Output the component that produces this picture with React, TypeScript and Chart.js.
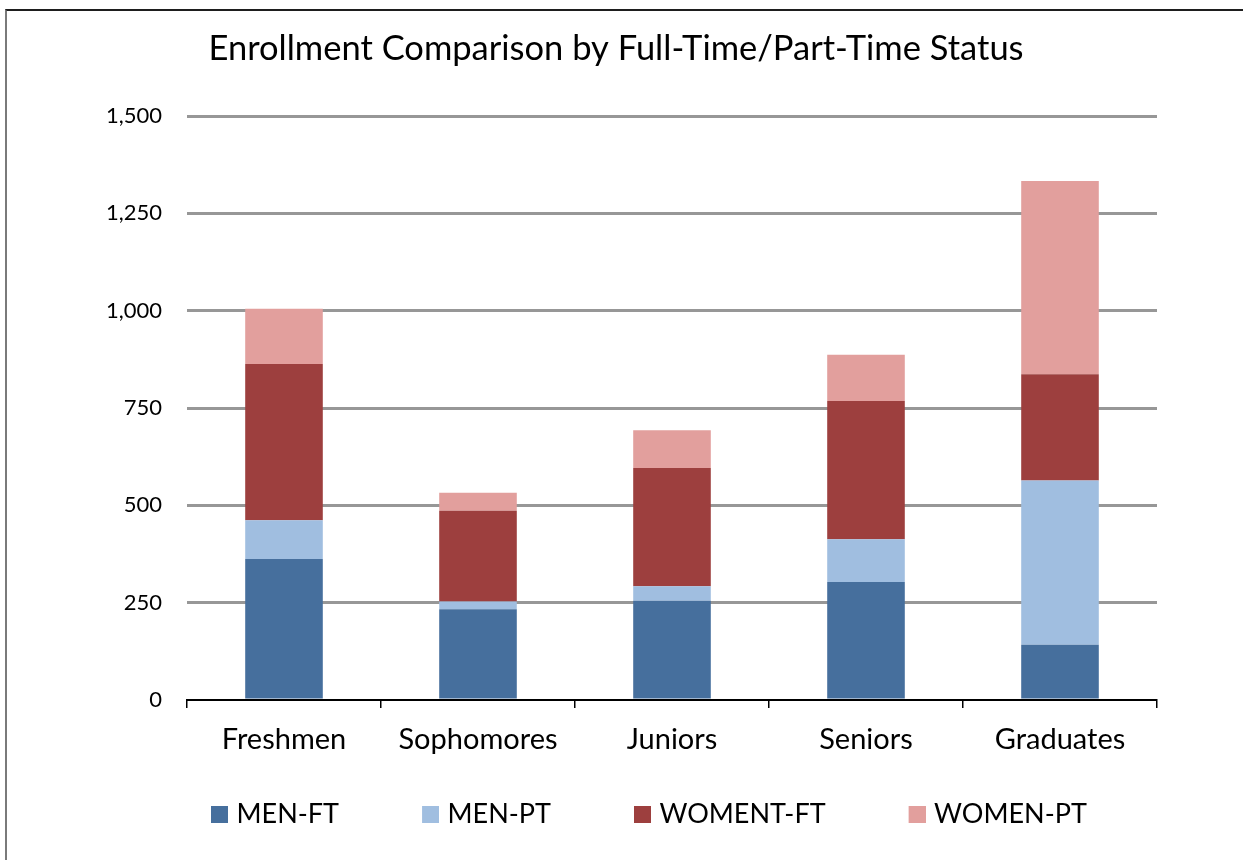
import React, { useEffect, useRef } from "react";
import { Chart, registerables } from "chart.js";

Chart.register(...registerables);

const categories = ["Freshmen", "Sophomores", "Juniors", "Seniors", "Graduates"];
const seriesNames = ["MEN-FT", "MEN-PT", "WOMENT-FT", "WOMEN-PT"];
const menFT = [362, 233, 255, 303, 142];
const menPT = [100, 20, 37, 110, 422];
const womenFT = [401, 233, 304, 355, 273];
const womenPT = [142, 46, 97, 119, 496];
const yTickValues = [0, 250, 500, 750, 1000, 1250, 1500];
const titleText = "Enrollment Comparison by Full-Time/Part-Time Status";

const seriesColors = ["#466F9D", "#A0BEE0", "#9D3F3E", "#E29F9D"];
const FONT = "Lato, 'Open Sans', sans-serif";

function makeLegendIcon(color: string, width: number, size: number) {
  const c = document.createElement("canvas");
  c.width = width;
  c.height = size;
  const g = c.getContext("2d");
  if (g) {
    g.fillStyle = color;
    g.fillRect(width - size, 0, size, size);
  }
  return c;
}

export default function App() {
  const ref = useRef<HTMLCanvasElement>(null);

  useEffect(() => {
    const canvas = ref.current;
    if (!canvas) return;
    const BOX_W = 85;
    const ICON = 17;
    const icons = seriesColors.map((c) => makeLegendIcon(c, BOX_W + 10, ICON));

    const shiftPlugin = {
      id: "shiftBoxes",
      afterLayout(chart: any) {
        const t = chart.titleBlock;
        if (t) {
          const dx = 616 - (t.left + t.right) / 2;
          t.left += dx;
          t.right += dx;
        }
        const lg = chart.legend;
        if (lg && lg.lineWidths) {
          const pad = lg.options.labels.padding;
          const x0 = (lg.left + pad + lg.right - lg.lineWidths[0]) / 2;
          const dx = 211 - (x0 + BOX_W + 5 - ICON);
          lg.left += dx;
          lg.right += dx;
        }
      },
    };

    const seriesData = [menFT, menPT, womenFT, womenPT];
    const chart = new Chart(canvas, {
      type: "bar",
      data: {
        labels: categories,
        datasets: seriesNames.map((name, i) => ({
          label: name,
          data: seriesData[i],
          backgroundColor: seriesColors[i],
          borderWidth: 0,
          barPercentage: 0.4,
          categoryPercentage: 1.0,
        })),
      },
      options: {
        responsive: false,
        animation: false,
        events: [],
        layout: { padding: { top: 0, left: 0, right: 86, bottom: 22 } },
        plugins: {
          title: {
            display: true,
            text: titleText,
            color: "#000",
            font: { family: FONT, size: 34.5, weight: "normal" },
            padding: { top: 28, bottom: 46.6 },
          },
          legend: {
            display: true,
            position: "bottom",
            labels: {
              usePointStyle: true,
              pointStyleWidth: BOX_W,
              boxHeight: ICON,
              color: "#000",
              font: { family: FONT, size: 27 },
              padding: 10,
              generateLabels: (ch: any) =>
                (Chart.defaults as any).plugins.legend.labels
                  .generateLabels(ch)
                  .map((l: any, i: number) => ({ ...l, pointStyle: icons[i] })),
            },
          },
          tooltip: { enabled: false },
        },
        scales: {
          x: {
            stacked: true,
            grid: {
              display: true,
              drawOnChartArea: false,
              drawTicks: true,
              tickLength: 8,
              color: "#000",
              lineWidth: 1.5,
              offset: true,
            },
            border: { display: true, color: "#000", width: 2 },
            ticks: { color: "#000", font: { family: FONT, size: 29 }, padding: 14 },
            afterFit: (s: any) => {
              s.height = 91;
            },
          },
          y: {
            stacked: true,
            min: 0,
            max: 1500,
            afterBuildTicks: (s: any) => {
              s.ticks = yTickValues.map((v) => ({ value: v }));
            },
            grid: {
              color: (c: any) => (c.tick && c.tick.value === 0 ? "rgba(0,0,0,0)" : "#979797"),
              lineWidth: 3,
              drawTicks: false,
            },
            border: { display: false },
            ticks: { color: "#000", font: { family: FONT, size: 22 }, padding: 25 },
            afterFit: (s: any) => {
              s.width = 187;
            },
          },
        },
      } as any,
      plugins: [shiftPlugin],
    });
    return () => chart.destroy();
  }, []);

  return (
    <div
      style={{
        position: "fixed",
        left: 0,
        top: 0,
        width: 1243,
        height: 860,
        background: "#fff",
        overflow: "hidden",
      }}
    >
      <canvas ref={ref} width={1243} height={860} style={{ display: "block" }} />
      <div
        style={{
          position: "absolute",
          left: 5,
          top: 9,
          right: 0,
          bottom: 0,
          borderTop: "2px solid #1e1e1e",
          borderLeft: "2px solid #7a7a7a",
          pointerEvents: "none",
        }}
      />
    </div>
  );
}
